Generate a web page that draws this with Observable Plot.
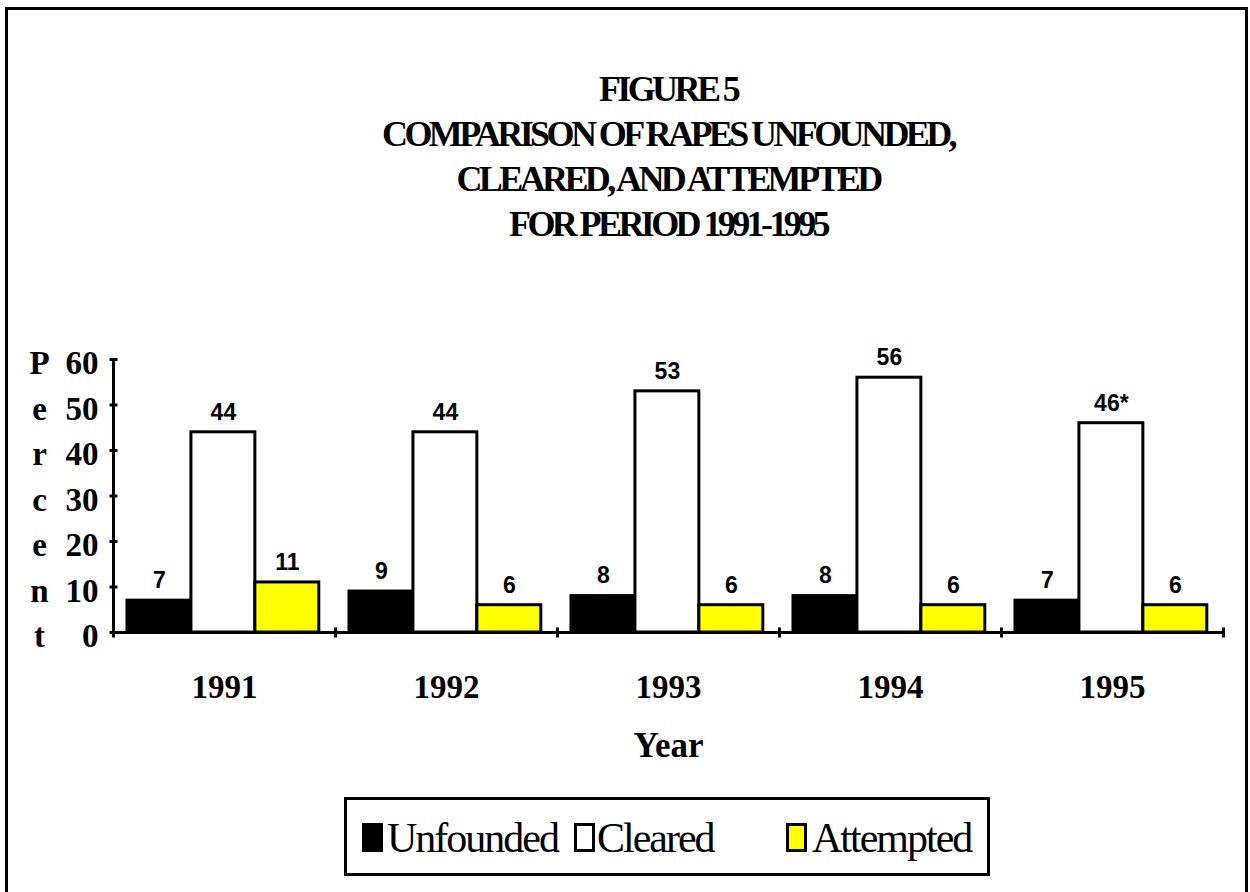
<!DOCTYPE html>
<html>
<head>
<meta charset="utf-8">
<script src="https://cdn.jsdelivr.net/npm/d3@7"></script>
<script src="https://cdn.jsdelivr.net/npm/@observablehq/plot@0.6"></script>
<style>
  html, body { margin: 0; padding: 0; background: #fff; }
  body { width: 1250px; height: 892px; overflow: hidden; position: relative; }
  #frame { position: absolute; left: 5px; top: 7px; width: 1243px; height: 1000px;
           border: 3px solid #000; box-sizing: border-box; }
  #title { position: absolute; left: 113px; width: 1110px; top: 67px; text-align: center;
           font-family: "Liberation Serif", "Times New Roman", serif; font-weight: bold;
           font-size: 36px; line-height: 45px; letter-spacing: -3.6px; word-spacing: 0px; color: #000; }
  #chart { position: absolute; left: 0; top: 290px; }
  #legend { position: absolute; left: 344px; top: 797px; width: 646px; height: 79px;
            border: 3px solid #000; box-sizing: border-box; background: #fff; }
  .sw { position: absolute; top: 23px; width: 21px; height: 29px; box-sizing: border-box; border: 3px solid #000; }
  .lt { position: absolute; top: 17px; font-family: "Liberation Serif", "Times New Roman", serif;
        font-size: 42px; line-height: 42px; letter-spacing: -2px; color: #000; white-space: nowrap; }
</style>
</head>
<body>
<div id="frame"></div>
<div id="title"></div>
<div id="chart"></div>
<div id="legend"></div>
<script>
// ---- data ----
const titleLines = ["FIGURE 5", "COMPARISON OF RAPES UNFOUNDED,", "CLEARED, AND ATTEMPTED", "FOR PERIOD 1991-1995"];
const years = ["1991", "1992", "1993", "1994", "1995"];
const series = ["Unfounded", "Cleared", "Attempted"];
const unfounded = [7, 9, 8, 8, 7];
const cleared = [44, 44, 53, 56, 46];
const attempted = [11, 6, 6, 6, 6];
const clearedNote = ["", "", "", "", "*"];
const yTicks = [0, 10, 20, 30, 40, 50, 60];
const yTitle = "Percent";
const xTitle = "Year";
const colors = ["#000000", "#ffffff", "#ffff00"];

// ---- build table ----
const values = [unfounded, cleared, attempted];
const notes = [years.map(() => ""), clearedNote, years.map(() => "")];
const rows = [];
years.forEach((yr, i) => {
  series.forEach((s, j) => {
    rows.push({year: yr, yi: i, series: s, si: j, value: values[j][i], label: values[j][i] + notes[j][i]});
  });
});
const pad = 0.063, w = 0.288; // layout within each year slot
const bounds = d3.range(years.length + 1);
const titleLetters = yTitle.split("").map((c, k) => ({c, v: yTicks[yTicks.length - 1 - k]}));

const vTick = {draw(ctx, size) { const r = Math.sqrt(size / Math.PI); ctx.moveTo(0, -r); ctx.lineTo(0, r); }};
const hTick = {draw(ctx, size) { const r = Math.sqrt(size / Math.PI); ctx.moveTo(-r, 0); ctx.lineTo(r, 0); }};

const serif = "Liberation Serif, Times New Roman, serif";
const sans = "Liberation Sans, Arial, sans-serif";

const chart = Plot.plot({
  width: 1250,
  height: 500,
  marginTop: 69,
  marginBottom: 158,
  marginLeft: 113,
  marginRight: 27,
  x: {type: "linear", domain: [0, years.length], axis: null},
  y: {type: "linear", domain: [0, 60], axis: null},
  style: {background: "transparent", overflow: "visible"},
  marks: [
    Plot.rect(rows, {
      x1: d => d.yi + pad + d.si * w,
      x2: d => d.yi + pad + (d.si + 1) * w,
      y1: () => 0,
      y2: "value",
      fill: d => colors[d.si],
      stroke: "#000",
      strokeWidth: 3
    }),
    Plot.ruleY([0], {stroke: "#000", strokeWidth: 3}),
    Plot.ruleX([0], {stroke: "#000", strokeWidth: 3}),
    Plot.dot(bounds, {x: d => d, y: () => 0, symbol: vTick, r: 5, stroke: "#000", strokeWidth: 3}),
    Plot.dot(yTicks, {x: () => 0, y: d => d, symbol: hTick, r: 4, stroke: "#000", strokeWidth: 3}),
    Plot.text(rows, {
      x: d => d.yi + pad + (d.si + 0.5) * w,
      y: "value",
      text: "label",
      dy: -20,
      fontFamily: sans, fontWeight: "bold", fontSize: 23, fill: "#000"
    }),
    Plot.text(yTicks, {
      x: () => 0, y: d => d, text: d => String(d),
      textAnchor: "end", dx: -15, dy: 4,
      fontFamily: serif, fontWeight: "bold", fontSize: 33, fill: "#000", ariaLabel: "ytick"
    }),
    Plot.text(titleLetters, {
      x: () => 0, y: "v", text: "c",
      textAnchor: "middle", dx: -74, dy: 4,
      fontFamily: serif, fontWeight: "bold", fontSize: 33, fill: "#000"
    }),
    Plot.text(years, {
      x: (d, i) => i + 0.5, y: () => 0, text: d => d,
      dy: 55,
      fontFamily: serif, fontWeight: "bold", fontSize: 33, fill: "#000", ariaLabel: "xtick"
    }),
    Plot.text([xTitle], {
      frameAnchor: "bottom", text: d => d, dy: 124,
      fontFamily: serif, fontWeight: "bold", fontSize: 35, fill: "#000", ariaLabel: "xtitle"
    })
  ]
});
document.getElementById("chart").appendChild(chart);
chart.querySelectorAll('[aria-label="ytick"] text, [aria-label="xtick"] text').forEach(t => t.setAttribute("letter-spacing", "-2.5"));
chart.querySelectorAll('[aria-label="xtitle"] text').forEach(t => t.setAttribute("letter-spacing", "-3"));

// title
const title = document.getElementById("title");
titleLines.forEach(l => { const div = document.createElement("div"); div.textContent = l; title.appendChild(div); });

// legend
const legend = document.getElementById("legend");
const swLeft = [15, 227, 439];
const txtLeft = [40, 250, 465];
series.forEach((s, j) => {
  const sw = document.createElement("div");
  sw.className = "sw";
  sw.style.left = swLeft[j] + "px";
  sw.style.background = colors[j];
  legend.appendChild(sw);
  const t = document.createElement("div");
  t.className = "lt";
  t.style.left = txtLeft[j] + "px";
  t.textContent = s;
  legend.appendChild(t);
});
</script>
</body>
</html>
